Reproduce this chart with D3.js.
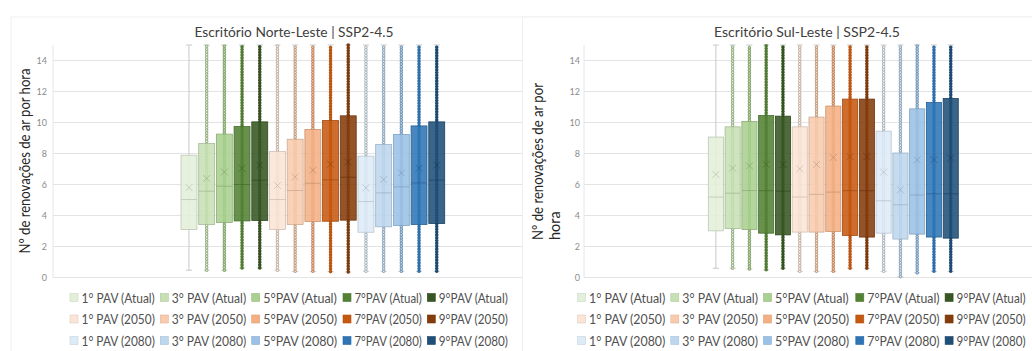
<!DOCTYPE html>
<html>
<head>
<meta charset="utf-8">
<script src="https://cdn.jsdelivr.net/npm/d3@7"></script>
<style>
  body { margin: 0; background: #fff; }
  text { font-family: Lato, "Open Sans", sans-serif; }
</style>
</head>
<body>
<script>
// series (one box each), legend is laid out row by row, 5 per row
const categories = [
  "1° PAV (Atual)", "3° PAV (Atual)", "5°PAV (Atual)", "7°PAV (Atual)", "9°PAV (Atual)",
  "1° PAV (2050)", "3° PAV (2050)", "5°PAV (2050)", "7°PAV (2050)", "9°PAV (2050)",
  "1° PAV (2080)", "3° PAV (2080)", "5°PAV (2080)", "7°PAV (2080)", "9°PAV (2080)"
];
const colors = [
  "#e2efda", "#c6e0b4", "#a9d08e", "#548235", "#375623",
  "#fce4d6", "#f8cbad", "#f4b084", "#c65911", "#843c0c",
  "#ddebf7", "#bdd7ee", "#9bc2e6", "#2e75b6", "#1f4e78"
];
const yTicks = [0, 2, 4, 6, 8, 10, 12, 14];

// Escritório Norte-Leste
const nlMin    = [0.47, 0.47, 0.47, 0.62, 0.62, 0.47, 0.40, 0.40, 0.38, 0.36, 0.40, 0.40, 0.40, 0.40, 0.40];
const nlQ1     = [3.10, 3.42, 3.55, 3.65, 3.68, 3.10, 3.42, 3.61, 3.63, 3.70, 2.92, 3.27, 3.35, 3.42, 3.48];
const nlMedian = [5.03, 5.57, 5.89, 6.00, 6.28, 5.03, 5.61, 6.08, 6.30, 6.47, 4.90, 5.46, 5.85, 6.10, 6.28];
const nlQ3     = [7.89, 8.64, 9.25, 9.74, 10.04, 8.13, 8.92, 9.55, 10.13, 10.43, 7.83, 8.58, 9.23, 9.78, 10.04];
const nlMean   = [5.80, 6.39, 6.81, 7.05, 7.25, 5.94, 6.49, 6.92, 7.30, 7.45, 5.78, 6.32, 6.75, 7.05, 7.25];
const nlMax    = [15, 15, 15, 15, 15, 15, 15, 15, 15, 15, 15, 15, 15, 15, 15];

// Escritório Sul-Leste
const slMin    = [0.60, 0.60, 0.55, 0.50, 0.60, 0.40, 0.40, 0.40, 0.60, 0.60, 0.40, 0.05, 0.30, 0.40, 0.40];
const slQ1     = [3.01, 3.16, 3.10, 2.86, 2.75, 2.93, 2.93, 2.97, 2.71, 2.61, 2.86, 2.48, 2.80, 2.61, 2.54];
const slMedian = [5.19, 5.44, 5.61, 5.60, 5.57, 5.19, 5.36, 5.51, 5.60, 5.60, 4.95, 4.69, 5.32, 5.40, 5.40];
const slQ3     = [9.06, 9.72, 10.06, 10.45, 10.41, 9.72, 10.35, 11.06, 11.51, 11.51, 9.44, 8.03, 10.88, 11.29, 11.55];
const slMean   = [6.65, 7.06, 7.20, 7.30, 7.29, 7.01, 7.29, 7.74, 7.80, 7.80, 6.80, 5.66, 7.59, 7.60, 7.70];
const slMax    = [15, 15, 15, 15, 15, 15, 15, 15, 15, 15, 15, 15, 15, 15, 15];

const svg = d3.select("body").append("svg")
    .attr("width", 1032)
    .attr("height", 351);

function stats(mn, q1, md, q3, mean, mx) {
    return categories.map((c, i) => ({
        name: c, color: colors[i],
        min: mn[i], q1: q1[i], median: md[i], q3: q3[i], mean: mean[i], max: mx[i]
    }));
}

function drawChart(cfg, data) {
    let g = svg.append("g");

    // chart area (right chart sits on top of the left one)
    g.append("rect")
        .attr("x", cfg.areaX).attr("y", 17)
        .attr("width", 1100 - cfg.areaX).attr("height", 400)
        .attr("fill", "#fff")
        .attr("stroke", "#efefef");

    let y = d3.scaleLinear().domain([0, 15]).range([277.5, 45]);
    let x = d3.scaleBand()
        .domain(categories)
        .range(cfg.boxRange)
        .paddingInner(0.1)
        .paddingOuter(0);

    //gridlines
    g.append("g").selectAll("line")
        .data(yTicks)
        .join("line")
        .attr("x1", cfg.plotLeft).attr("x2", cfg.plotRight)
        .attr("y1", d => y(d)).attr("y2", d => y(d))
        .attr("stroke", "#e3e3e3")
        .attr("stroke-width", 1);

    g.append("line")
        .attr("x1", cfg.plotLeft).attr("x2", cfg.plotLeft)
        .attr("y1", y(15)).attr("y2", y(0))
        .attr("stroke", "#e6e6e6");

    //y axis labels
    let yAxis = d3.axisLeft(y).tickValues(yTicks).tickSize(0).tickPadding(0);
    let ax = g.append("g")
        .attr("transform", "translate(" + cfg.tickX + ",0)")
        .call(yAxis);
    ax.select(".domain").remove();
    ax.selectAll("text")
        .attr("fill", "#8c8c8c")
        .style("font-size", "9px");

    //title
    g.append("text")
        .attr("x", cfg.titleX).attr("y", 37)
        .attr("text-anchor", "middle")
        .attr("fill", "#404040")
        .style("font-size", "14px")
        .attr("textLength", cfg.titleW)
        .attr("lengthAdjust", "spacingAndGlyphs")
        .text(cfg.title);

    //y label
    let yl = g.append("text")
        .attr("transform", "rotate(-90)")
        .attr("fill", "#262626")
        .style("font-size", "14.5px");
    cfg.yLabel.forEach((line, i) => {
        let ts = yl.append("tspan")
            .attr("x", -cfg.yLabelStart)
            .attr("y", cfg.yLabelX + i * 16.5)
            .attr("text-anchor", cfg.yLabel.length > 1 ? "start" : "middle")
            .text(line);
        if (cfg.yLabelW[i]) ts.attr("textLength", cfg.yLabelW[i]).attr("lengthAdjust", "spacingAndGlyphs");
    });

    //boxes
    let bw = x.bandwidth();
    let boxes = g.append("g").selectAll("g")
        .data(data)
        .join("g")
        .attr("transform", d => "translate(" + (x(d.name) + bw / 2) + ",0)");

    // whisker
    boxes.append("line")
        .attr("y1", d => y(d.min)).attr("y2", d => y(d.max))
        .attr("stroke", "#c8c8c8").attr("stroke-width", 1);
    boxes.selectAll(".cap")
        .data(d => [d.min, d.max])
        .join("line")
        .attr("class", "cap")
        .attr("x1", -3).attr("x2", 3)
        .attr("y1", v => y(v)).attr("y2", v => y(v))
        .attr("stroke", "#c8c8c8");

    // inner points (not shown for the first series)
    let pts = boxes.filter((d, i) => i > 0);
    pts.append("line")
        .attr("y1", d => y(d.min)).attr("y2", d => y(d.max))
        .attr("stroke", d => d3.color(d.color).darker(d3.hsl(d.color).l > 0.6 ? 0.7 : 0.2))
        .attr("stroke-width", 3.6)
        .attr("stroke-linecap", "round")
        .attr("stroke-dasharray", "0 2.8");
    pts.append("line")
        .attr("y1", d => y(d.min)).attr("y2", d => y(d.max))
        .attr("stroke", d => d3.hsl(d.color).l > 0.6 ? d3.color(d.color).brighter(0.3) : d.color)
        .attr("stroke-width", 1.6)
        .attr("stroke-linecap", "round")
        .attr("stroke-dasharray", "0 2.8");

    boxes.append("rect")
        .attr("x", -bw / 2).attr("width", bw)
        .attr("y", d => y(d.q3))
        .attr("height", d => y(d.q1) - y(d.q3))
        .attr("fill", d => d.color)
        .attr("fill-opacity", 0.88)
        .attr("stroke", d => d3.color(d.color).darker(0.5))
        .attr("stroke-width", 0.8);

    boxes.append("line")
        .attr("x1", -bw / 2).attr("x2", bw / 2)
        .attr("y1", d => y(d.median)).attr("y2", d => y(d.median))
        .attr("stroke", d => d3.color(d.color).darker(0.7))
        .attr("stroke-opacity", 0.6);

    boxes.append("path")
        .attr("d", d => {
            let cy = y(d.mean);
            return "M-3.5," + (cy - 3.5) + "L3.5," + (cy + 3.5) + "M-3.5," + (cy + 3.5) + "L3.5," + (cy - 3.5);
        })
        .attr("stroke", d => d3.color(d.color).darker(0.8))
        .attr("stroke-opacity", 0.55)
        .attr("fill", "none");

    //legend
    let lg = g.append("g");
    categories.forEach((c, idx) => {
        let r = Math.floor(idx / 5), col = idx % 5;
        let item = lg.append("g")
            .attr("transform", "translate(" + (cfg.legendX + cfg.legendCols[col]) + "," + cfg.legendRows[r] + ")");
        item.append("rect")
            .attr("x", 0).attr("y", -4.5)
            .attr("width", 8).attr("height", 8)
            .attr("fill", colors[idx])
            .attr("stroke", d3.color(colors[idx]).darker(0.3))
            .attr("stroke-width", 0.6);
        let t = item.append("text")
            .attr("x", 11.5).attr("y", 4.5)
            .attr("fill", "#505050")
            .style("font-size", "12.5px")
            .text(c);
        // keep text inside its column
        let room = (col < 4 ? cfg.legendCols[col + 1] - cfg.legendCols[col] : 86) - 17;
        if (t.node().getComputedTextLength() > room)
            t.attr("textLength", room).attr("lengthAdjust", "spacingAndGlyphs");
    });
}

drawChart({
    title: "Escritório Norte-Leste | SSP2-4.5", titleW: 199,
    areaX: 11, plotLeft: 53, plotRight: 573,
    boxRange: [181, 444.7],
    tickX: 47, titleX: 294,
    yLabel: ["Nº de renovações de ar por hora"], yLabelW: [185], yLabelX: 30, yLabelStart: 161,
    legendX: 70, legendCols: [0, 90.3, 181.7, 273, 357.3], legendRows: [298, 319.5, 341]
}, stats(nlMin, nlQ1, nlMedian, nlQ3, nlMean, nlMax));

drawChart({
    title: "Escritório Sul-Leste | SSP2-4.5", titleW: 186,
    areaX: 522.5, plotLeft: 584, plotRight: 1083,
    boxRange: [708.3, 958.3],
    tickX: 580, titleX: 807,
    yLabel: ["Nº de renovações de ar por", "hora"], yLabelW: [157, 0], yLabelX: 543, yLabelStart: 240,
    legendX: 577.5, legendCols: [0, 93.3, 186, 278.3, 367.6], legendRows: [298, 319.5, 341]
}, stats(slMin, slQ1, slMedian, slQ3, slMean, slMax));
</script>
</body>
</html>
